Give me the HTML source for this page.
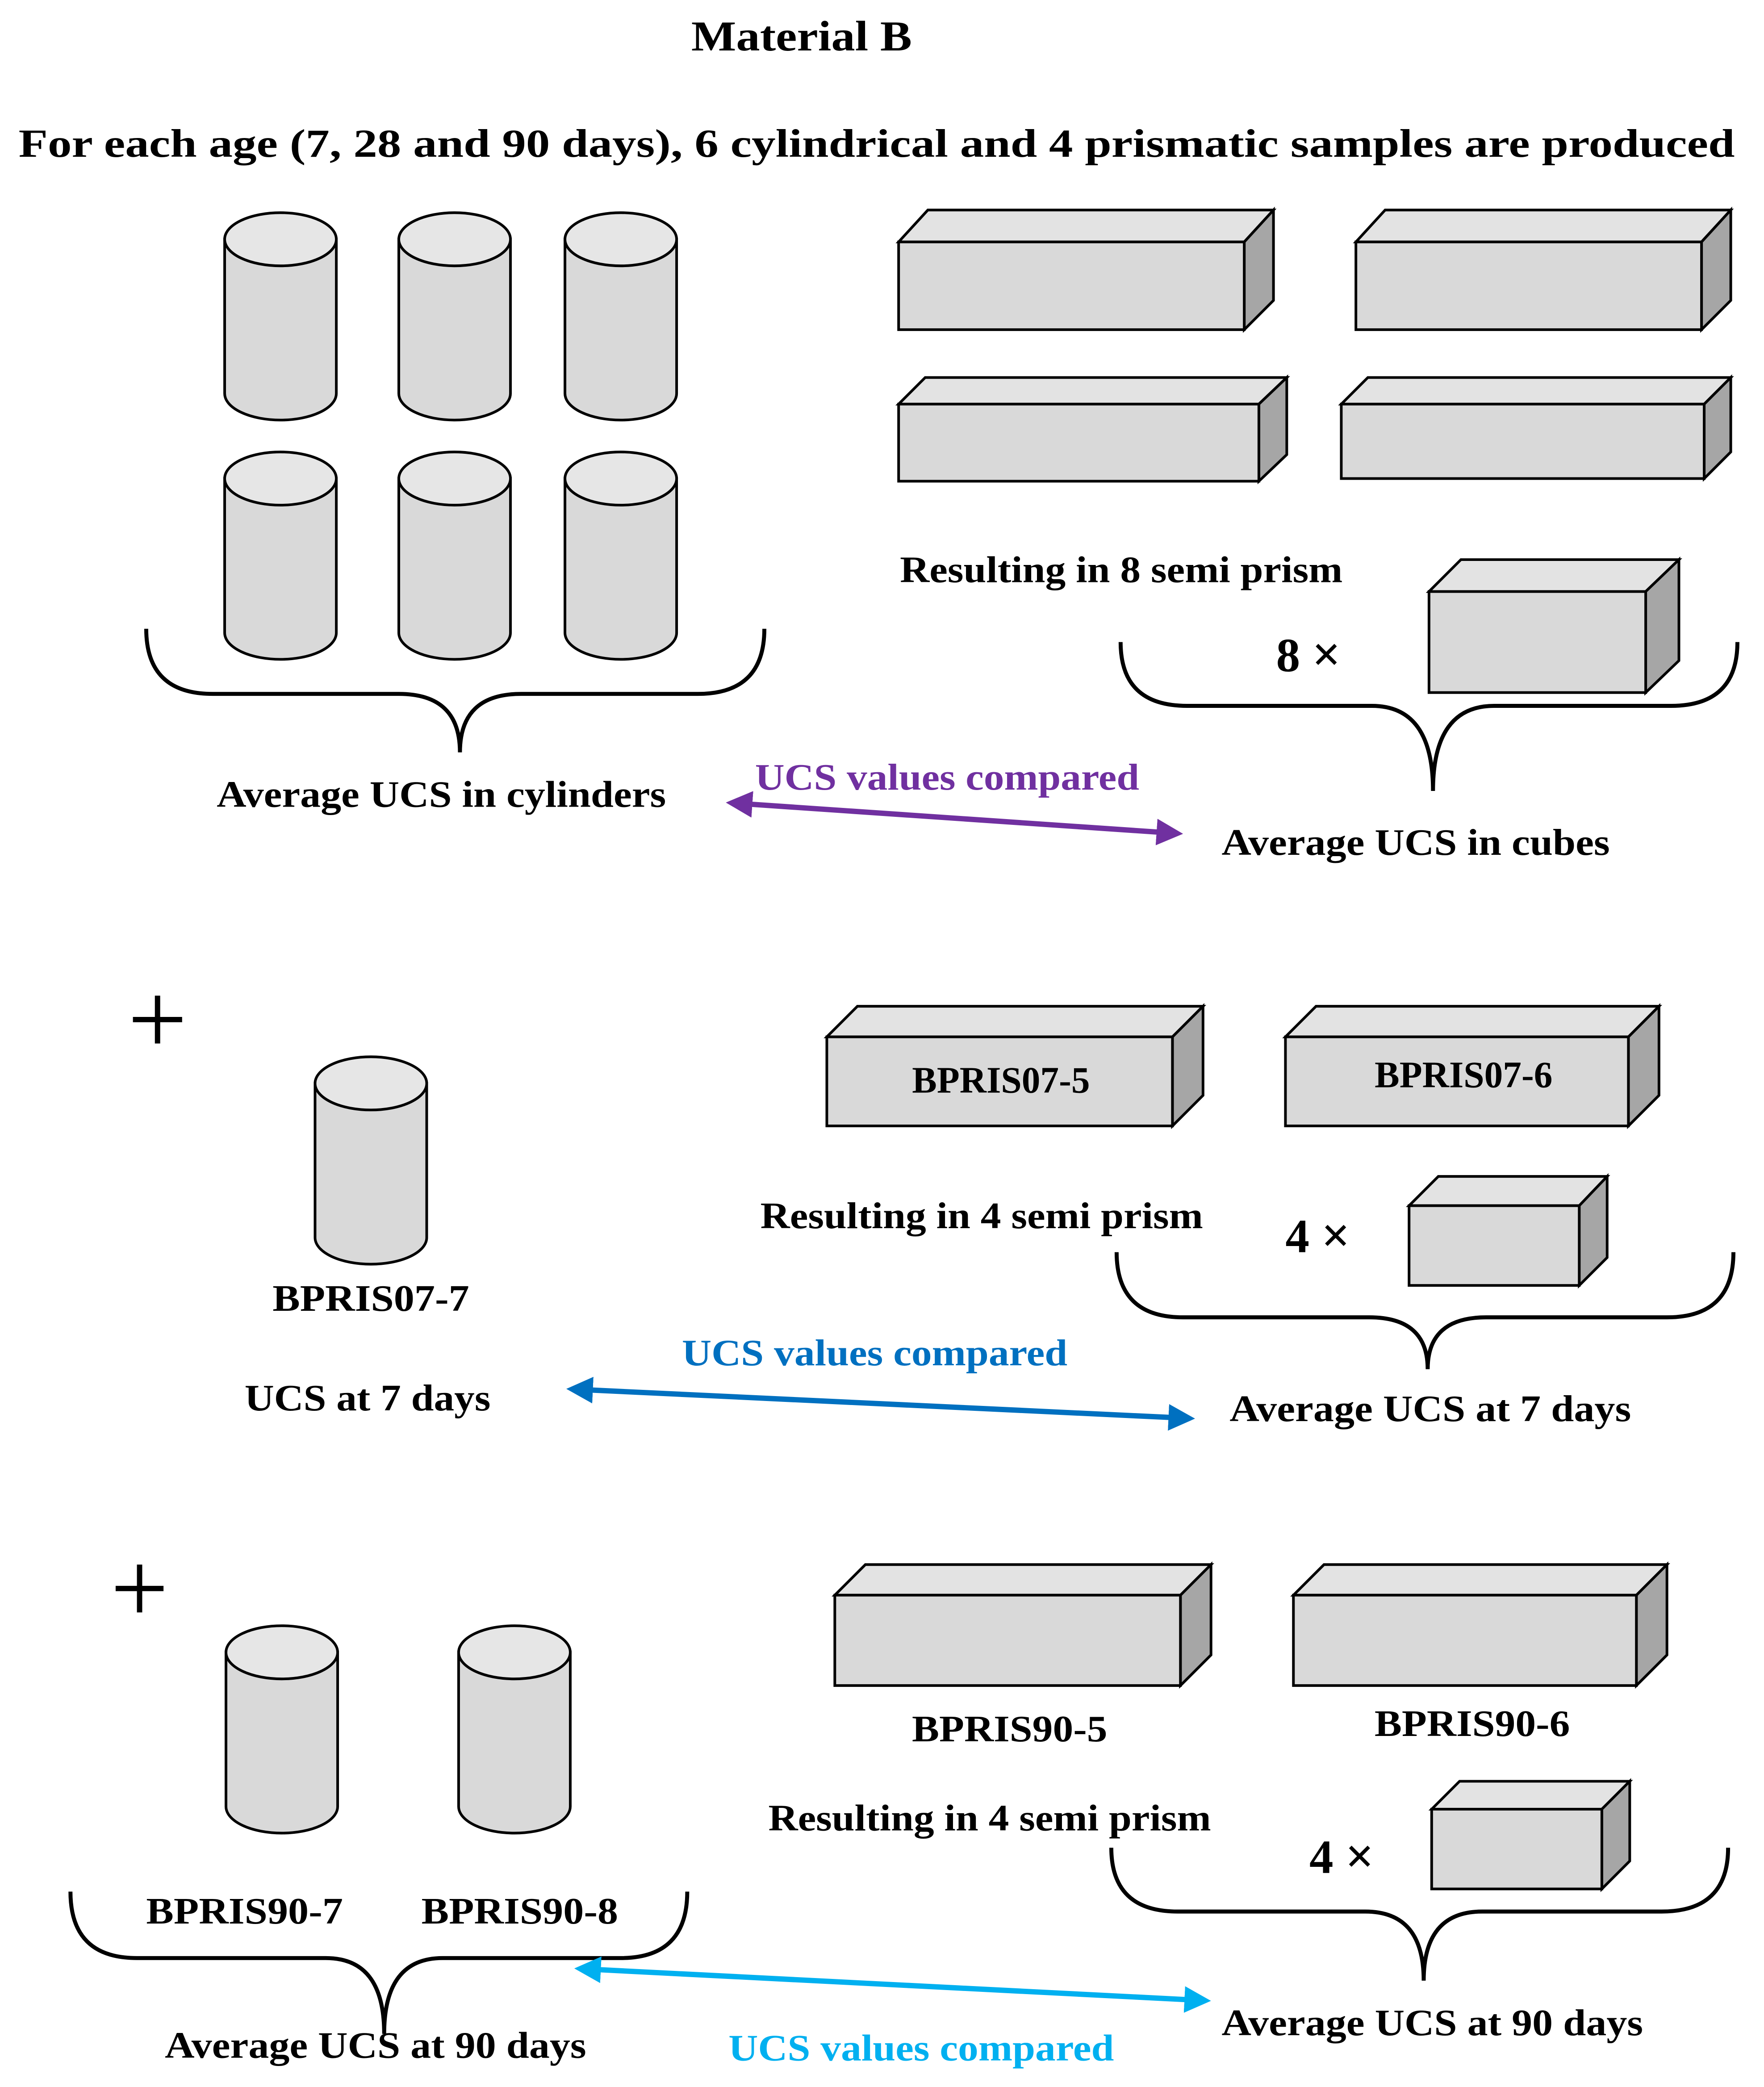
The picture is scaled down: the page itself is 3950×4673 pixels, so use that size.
<!DOCTYPE html>
<html><head><meta charset="utf-8"><style>
html,body{margin:0;padding:0;background:#fff;}
svg{display:block;}
text{font-family:"Liberation Serif",serif;font-weight:bold;}
</style></head><body>
<svg width="3950" height="4673" viewBox="0 0 1327 1570" preserveAspectRatio="none" xmlns="http://www.w3.org/2000/svg">
<defs>
<marker id="ap" viewBox="0 0 10 10" refX="8" refY="5" markerWidth="5" markerHeight="5" orient="auto-start-reverse"><path d="M0,0 L10,5 L0,10 z" fill="#7030a0"/></marker>
<marker id="ab" viewBox="0 0 10 10" refX="8" refY="5" markerWidth="5" markerHeight="5" orient="auto-start-reverse"><path d="M0,0 L10,5 L0,10 z" fill="#0070c0"/></marker>
<marker id="al" viewBox="0 0 10 10" refX="8" refY="5" markerWidth="5" markerHeight="5" orient="auto-start-reverse"><path d="M0,0 L10,5 L0,10 z" fill="#00b0f0"/></marker>
<g id="cyl" stroke="#000" stroke-width="2">
<path d="M0,20 L0,136 A42,20 0 0 0 84,136 L84,20 Z" fill="#d9d9d9"/>
<ellipse cx="42" cy="20" rx="42" ry="20" fill="#e6e6e6"/>
</g>
</defs>
<g fill="#000">
<text x="520" y="38" font-size="32" textLength="166" lengthAdjust="spacingAndGlyphs">Material B</text>
<text x="14" y="118" font-size="30" textLength="1291" lengthAdjust="spacingAndGlyphs">For each age (7, 28 and 90 days), 6 cylindrical and 4 prismatic samples are produced</text>
</g>
<use href="#cyl" x="169" y="160"/><use href="#cyl" x="300" y="160"/><use href="#cyl" x="425" y="160"/>
<use href="#cyl" x="169" y="340"/><use href="#cyl" x="300" y="340"/><use href="#cyl" x="425" y="340"/>
<g stroke="#000" stroke-width="2" stroke-linejoin="miter">
<path d="M676,182 L698,158 L958,158 L936,182 Z" fill="#e3e3e3"/><path d="M936,182 L958,158 L958,226 L936,248 Z" fill="#a6a6a6"/><rect x="676" y="182" width="260" height="66" fill="#d9d9d9"/>
<path d="M1020,182 L1042,158 L1302,158 L1280,182 Z" fill="#e3e3e3"/><path d="M1280,182 L1302,158 L1302,226 L1280,248 Z" fill="#a6a6a6"/><rect x="1020" y="182" width="260" height="66" fill="#d9d9d9"/>
<path d="M676,304 L696,284 L968,284 L947,304 Z" fill="#e3e3e3"/><path d="M947,304 L968,284 L968,342 L947,362 Z" fill="#a6a6a6"/><rect x="676" y="304" width="271" height="58" fill="#d9d9d9"/>
<path d="M1009,304 L1029,284 L1302,284 L1282,304 Z" fill="#e3e3e3"/><path d="M1282,304 L1302,284 L1302,340 L1282,360 Z" fill="#a6a6a6"/><rect x="1009" y="304" width="273" height="56" fill="#d9d9d9"/>
<path d="M1075,445 L1099,421 L1263,421 L1238,445 Z" fill="#e3e3e3"/><path d="M1238,445 L1263,421 L1263,497 L1238,521 Z" fill="#a6a6a6"/><rect x="1075" y="445" width="163" height="76" fill="#d9d9d9"/>
<path d="M622,780 L645,757 L905,757 L882,780 Z" fill="#e3e3e3"/><path d="M882,780 L905,757 L905,824 L882,847 Z" fill="#a6a6a6"/><rect x="622" y="780" width="260" height="67" fill="#d9d9d9"/>
<path d="M967,780 L990,757 L1248,757 L1225,780 Z" fill="#e3e3e3"/><path d="M1225,780 L1248,757 L1248,824 L1225,847 Z" fill="#a6a6a6"/><rect x="967" y="780" width="258" height="67" fill="#d9d9d9"/>
<path d="M1060,907 L1082,885 L1209,885 L1188,907 Z" fill="#e3e3e3"/><path d="M1188,907 L1209,885 L1209,946 L1188,967 Z" fill="#a6a6a6"/><rect x="1060" y="907" width="128" height="60" fill="#d9d9d9"/>
<path d="M628,1200 L651,1177 L911,1177 L888,1200 Z" fill="#e3e3e3"/><path d="M888,1200 L911,1177 L911,1245 L888,1268 Z" fill="#a6a6a6"/><rect x="628" y="1200" width="260" height="68" fill="#d9d9d9"/>
<path d="M973,1200 L996,1177 L1254,1177 L1231,1200 Z" fill="#e3e3e3"/><path d="M1231,1200 L1254,1177 L1254,1245 L1231,1268 Z" fill="#a6a6a6"/><rect x="973" y="1200" width="258" height="68" fill="#d9d9d9"/>
<path d="M1077,1361 L1098,1340 L1226,1340 L1205,1361 Z" fill="#e3e3e3"/><path d="M1205,1361 L1226,1340 L1226,1400 L1205,1421 Z" fill="#a6a6a6"/><rect x="1077" y="1361" width="128" height="60" fill="#d9d9d9"/>
</g>
<use href="#cyl" x="237" y="795"/>
<use href="#cyl" x="170" y="1223"/><use href="#cyl" x="345" y="1223"/>
<g fill="none" stroke="#000" stroke-width="3">
<path d="M110,473 Q110,522 160,522 L300,522 Q346,522 346,566 Q346,522 392,522 L525,522 Q575,522 575,473"/>
<path d="M843,483 Q843,531 893,531 L1032,531 Q1078,531 1078,595 Q1078,531 1124,531 L1257,531 Q1307,531 1307,483"/>
<path d="M840,942 Q840,991 890,991 L1030,991 Q1074,991 1074,1030 Q1074,991 1118,991 L1254,991 Q1304,991 1304,942"/>
<path d="M836,1390 Q836,1438 886,1438 L1027,1438 Q1071,1438 1071,1490 Q1071,1438 1115,1438 L1250,1438 Q1300,1438 1300,1390"/>
<path d="M53,1423 Q53,1473 103,1473 L245,1473 Q289,1473 289,1530 Q289,1473 333,1473 L467,1473 Q517,1473 517,1423"/>
</g>
<line x1="550" y1="604" x2="886" y2="627" stroke="#7030a0" stroke-width="4" marker-start="url(#ap)" marker-end="url(#ap)"/>
<line x1="430" y1="1045" x2="895" y2="1067" stroke="#0070c0" stroke-width="4" marker-start="url(#ab)" marker-end="url(#ab)"/>
<line x1="436" y1="1481" x2="907" y2="1505" stroke="#00b0f0" stroke-width="4" marker-start="url(#al)" marker-end="url(#al)"/>
<g stroke="#000" stroke-width="4">
<line x1="100" y1="767" x2="137" y2="767"/><line x1="118.5" y1="749" x2="118.5" y2="785"/>
<line x1="87" y1="1195" x2="123" y2="1195"/><line x1="105" y1="1177" x2="105" y2="1213"/>
</g>
<g fill="#000" font-size="28">
<text x="677" y="438" textLength="333" lengthAdjust="spacingAndGlyphs">Resulting in 8 semi prism</text>
<text x="960" y="505" font-size="36">8 <tspan font-size="38">×</tspan></text>
<text x="163" y="607" textLength="338" lengthAdjust="spacingAndGlyphs">Average UCS in cylinders</text>
<text x="568" y="594" fill="#7030a0" textLength="289" lengthAdjust="spacingAndGlyphs">UCS values compared</text>
<text x="919" y="643" textLength="292" lengthAdjust="spacingAndGlyphs">Average UCS in cubes</text>
<text x="753" y="822" text-anchor="middle">BPRIS07-5</text>
<text x="1101" y="818" text-anchor="middle">BPRIS07-6</text>
<text x="205" y="986" textLength="148" lengthAdjust="spacingAndGlyphs">BPRIS07-7</text>
<text x="572" y="924" textLength="333" lengthAdjust="spacingAndGlyphs">Resulting in 4 semi prism</text>
<text x="967" y="942" font-size="36">4 <tspan font-size="38">×</tspan></text>
<text x="513" y="1027" fill="#0070c0" textLength="290" lengthAdjust="spacingAndGlyphs">UCS values compared</text>
<text x="184" y="1061" textLength="185" lengthAdjust="spacingAndGlyphs">UCS at 7 days</text>
<text x="925" y="1069" textLength="302" lengthAdjust="spacingAndGlyphs">Average UCS at 7 days</text>
<text x="686" y="1310" textLength="147" lengthAdjust="spacingAndGlyphs">BPRIS90-5</text>
<text x="1034" y="1306" textLength="147" lengthAdjust="spacingAndGlyphs">BPRIS90-6</text>
<text x="578" y="1377" textLength="333" lengthAdjust="spacingAndGlyphs">Resulting in 4 semi prism</text>
<text x="985" y="1409" font-size="36">4 <tspan font-size="38">×</tspan></text>
<text x="110" y="1447" textLength="148" lengthAdjust="spacingAndGlyphs">BPRIS90-7</text>
<text x="317" y="1447" textLength="148" lengthAdjust="spacingAndGlyphs">BPRIS90-8</text>
<text x="124" y="1548" textLength="317" lengthAdjust="spacingAndGlyphs">Average UCS at 90 days</text>
<text x="548" y="1550" fill="#00b0f0" textLength="290" lengthAdjust="spacingAndGlyphs">UCS values compared</text>
<text x="919" y="1531" textLength="317" lengthAdjust="spacingAndGlyphs">Average UCS at 90 days</text>
</g>
</svg>
</body></html>
